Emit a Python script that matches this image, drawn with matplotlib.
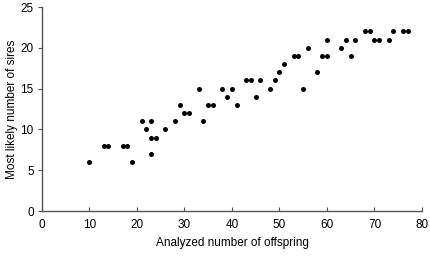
import matplotlib
matplotlib.use("Agg")
import matplotlib.pyplot as plt

offspring = [10, 13, 14, 17, 18, 19, 21, 22, 23, 23, 24, 23, 26, 28, 29, 30, 31, 33, 34, 35, 36,
             38, 39, 40, 41, 43, 44, 45, 46, 48, 49, 50, 51, 53, 54, 55, 56, 58, 59, 60, 60,
             63, 64, 65, 66, 68, 69, 70, 71, 73, 74, 76, 77]
sires = [6, 8, 8, 8, 8, 6, 11, 10, 11, 9, 9, 7, 10, 11, 13, 12, 12, 15, 11, 13, 13,
         15, 14, 15, 13, 16, 16, 14, 16, 15, 16, 17, 18, 19, 19, 15, 20, 17, 19, 19, 21,
         20, 21, 19, 21, 22, 22, 21, 21, 21, 22, 22, 22]
xticks = [0, 10, 20, 30, 40, 50, 60, 70, 80]
yticks = [0, 5, 10, 15, 20, 25]

plt.rcParams['font.family'] = ['Liberation Sans', 'DejaVu Sans']
fig = plt.figure(figsize=(4.31, 2.57), dpi=100)
ax = fig.add_axes([42/431, 1-211/257, 380/431, 204/257])
ax.scatter(offspring, sires, s=13, color='black', zorder=3, linewidths=0)
ax.set_xlim(0, 80)
ax.set_ylim(0, 25)
ax.set_xticks(xticks)
ax.set_yticks(yticks)
for s in ['top', 'right']:
    ax.spines[s].set_visible(False)
for s in ['left', 'bottom']:
    ax.spines[s].set_color('#555555')
    ax.spines[s].set_linewidth(1.0)
ax.tick_params(axis='x', direction='in', length=3, color='#555555', labelsize=8.5, pad=6)
ax.tick_params(axis='y', direction='out', length=3, color='#555555', labelsize=8.5, pad=3)
ax.set_xlabel('Analyzed number of offspring', fontsize=8.5, labelpad=4)
ax.set_ylabel('Most likely number of sires', fontsize=8.5, labelpad=2)
fig.savefig('out.png', dpi=100)
